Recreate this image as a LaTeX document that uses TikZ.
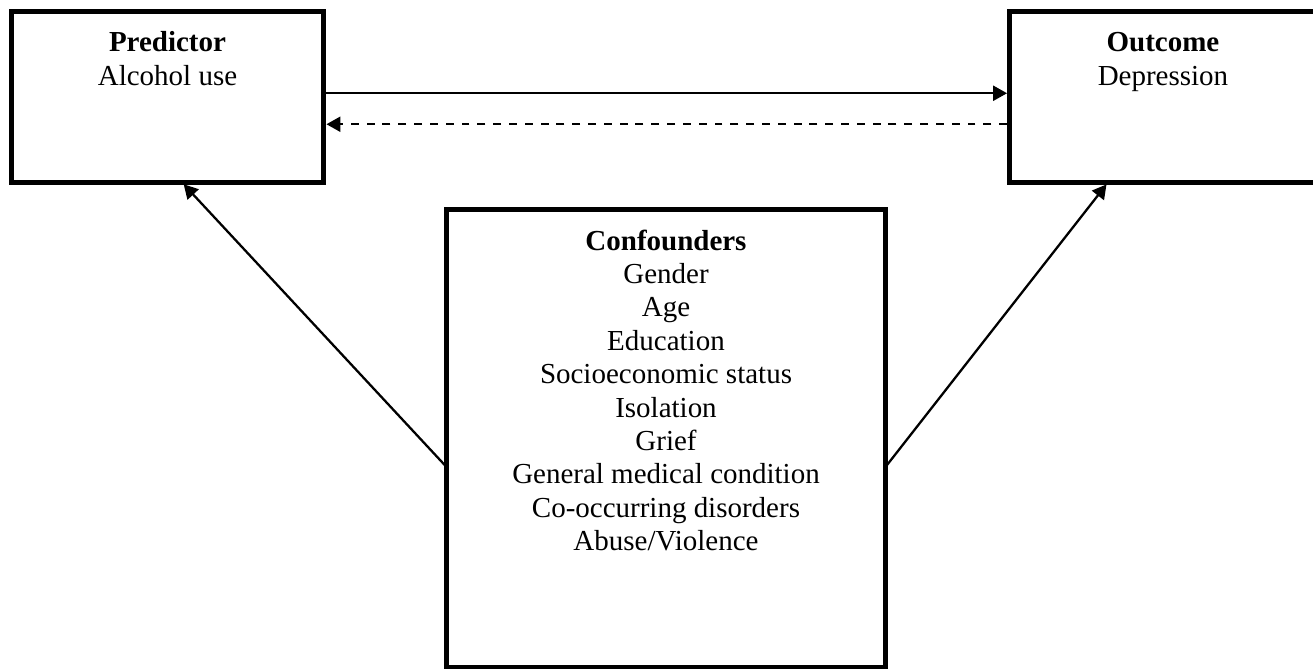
\documentclass[tikz,border=0pt]{standalone}
\usepackage{fontspec}
\setmainfont{Liberation Serif}
\usetikzlibrary{calc}
\usetikzlibrary{arrows.meta}
\usetikzlibrary{positioning}

\tikzset{
  box/.style={draw, line width=2.85pt, inner sep=0pt, outer sep=0pt},
  boxtxt/.style={align=center, inner sep=0pt, font=\fontsize{16.5}{19}\selectfont},
  link/.style={line width=1.3pt, shorten >=1.4pt, shorten <=1.4pt, -{Triangle[length=0.28cm,width=0.3cm]}},
}

\begin{document}
\begin{tikzpicture}[x=0.02cm,y=-0.02cm]
\useasboundingbox (0,0) rectangle (1313,669);
\node[box, minimum width=6.26cm, minimum height=3.43cm] (pred) at (167.5,96.75) {};
\node[box, minimum width=6.14cm, minimum height=3.43cm] (outc) at (1163,96.75) {};
\node[box, minimum width=8.78cm, minimum height=9.16cm] (conf) at (666,438.5) {};
\node[boxtxt, anchor=base] (predtxt) at ($ (pred.north)+(0,74) $) {\textbf{Predictor}\\Alcohol use};
\node[boxtxt, anchor=base] (outctxt) at ($ (outc.north)+(0,74) $) {\textbf{Outcome}\\Depression};
\node[boxtxt, anchor=base] (conftxt) at ($ (conf.north)+(0,341) $) {\textbf{Confounders}\\Gender\\Age\\Education\\Socioeconomic status\\Isolation\\Grief\\General medical condition\\Co-occurring disorders\\Abuse/Violence};
\draw[link] ([yshift=0.07cm]pred.east) -- ([yshift=0.07cm]outc.west);
\draw[link, dash pattern=on 4.5pt off 4.5pt] ([yshift=-0.55cm]outc.west) -- ([yshift=-0.55cm]pred.west -| pred.east);
\draw[link] ([yshift=-0.57cm]conf.west) -- ([xshift=0.29cm]pred.south);
\draw[link] ([yshift=-0.57cm]conf.east) -- ([xshift=-1.1cm]outc.south);
\end{tikzpicture}
\end{document}
